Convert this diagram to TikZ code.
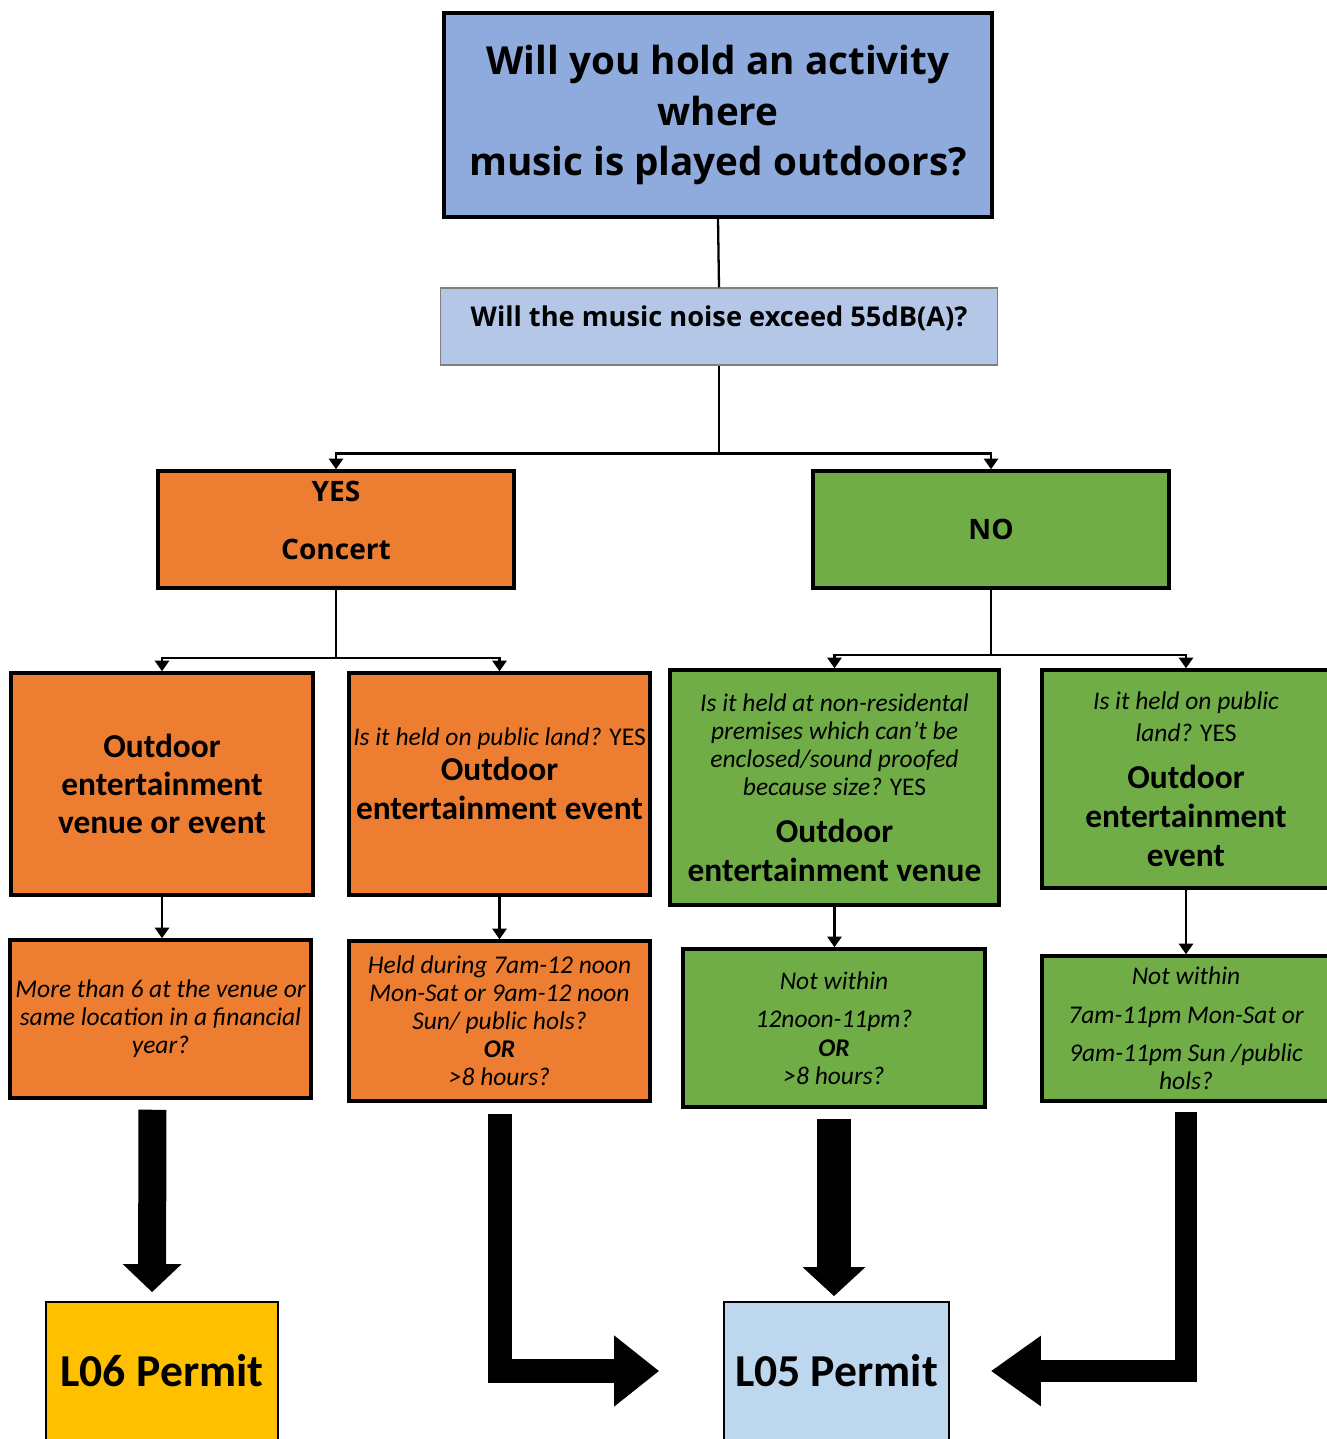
\documentclass[tikz,border=0pt]{standalone}
\usepackage{fontspec}
\setmainfont{Carlito}
\newfontfamily\headfont{Open Sans}
\usetikzlibrary{arrows.meta}
\definecolor{topblue}{HTML}{8FAADC}
\definecolor{paleblue}{HTML}{B4C7E7}
\definecolor{yesorange}{HTML}{ED7D31}
\definecolor{nogreen}{HTML}{70AD47}
\definecolor{lsixgold}{HTML}{FFC000}
\definecolor{lfiveblue}{HTML}{BDD7EE}
\newcommand{\heading}[1]{{\bfseries\upshape\fontsize{19}{21.6}\selectfont #1}}
\tikzset{
	box/.style={draw=black,line width=2pt,align=center,inner sep=2pt},
	link/.style={line width=1.3pt},
	tip/.style={-{Triangle[length=6pt,width=8pt]}},
	bigarrow/.style n args={3}{line width=#1,line join=miter,-{Triangle[length=#2,width=#3]}},
	small/.style={font=\itshape\fontsize{14.5}{16}\selectfont},
	big/.style={font=\bfseries\fontsize{19}{21.6}\selectfont}
}

\begin{document}
\begin{tikzpicture}[x=0.02cm,y=-0.02cm]
	\useasboundingbox (0,0) rectangle (1326,1439);
	\node[box,fill=topblue,line width=2.2pt,minimum width=10.96cm,minimum height=4.08cm,font=\headfont\bfseries\fontsize{22}{28.5}\selectfont] (activity) at (718,115) {Will you hold an activity\\ where\\ music is played outdoors?};
	\node[box,fill=paleblue,draw=gray,line width=0.6pt,minimum width=11.16cm,minimum height=1.54cm,text depth=0.42cm,font=\headfont\bfseries\fontsize{15.5}{18}\selectfont] (noise) at (719,326.5) {Will the music noise exceed 55dB(A)?};
	\node[box,fill=yesorange,minimum width=7.12cm,minimum height=2.34cm,text depth=0.36cm,font=\headfont\bfseries\fontsize{16}{19}\selectfont] (yes) at (336,529.5) {YES\\[14pt] Concert};
	\node[box,fill=nogreen,minimum width=7.12cm,minimum height=2.34cm,font=\headfont\bfseries\fontsize{16}{19}\selectfont] (no) at (991,529.5) {NO};

	\node[box,fill=yesorange,minimum width=6.04cm,minimum height=4.44cm,big] (venueevent) at (162,784) {Outdoor\\ entertainment\\ venue or event};
	\node[box,fill=yesorange,minimum width=6.02cm,minimum height=4.44cm,text depth=0.42cm,small] (publicland) at (499.5,784) {Is it held on public land? {\upshape YES}\\[4pt] \heading{Outdoor}\\[6pt] \heading{entertainment event}};
	\node[box,fill=nogreen,minimum width=6.58cm,minimum height=4.7cm,small] (nonres) at (834.5,787.5) {Is it held at non-residental\\ premises which can't be\\ enclosed/sound proofed\\ because size? {\upshape YES}\\[11pt] \heading{Outdoor}\\[6pt] \heading{entertainment venue}};
	\node[box,fill=nogreen,minimum width=5.76cm,minimum height=4.36cm,text depth=-0.34cm,small] (publicnd) at (1186,779) {Is it held on public\\[2pt] land? {\upshape YES}\\[11pt] \heading{Outdoor}\\[6pt] \heading{entertainment}\\[6pt] \heading{event}};

	\node[box,fill=yesorange,minimum width=6.02cm,minimum height=3.16cm,small] (morethansix) at (160.5,1019) {More than 6 at the venue or\\ same location in a financial\\ year?};
	\node[box,fill=yesorange,minimum width=6.02cm,minimum height=3.2cm,small] (noonhours) at (499.5,1021) {Held during 7am-12 noon\\ Mon-Sat or 9am-12 noon\\ Sun/ public hols?\\ {\bfseries OR}\\ >8 hours?};
	\node[box,fill=nogreen,minimum width=6.04cm,minimum height=3.16cm,small] (venuehours) at (834,1028) {Not within\\[6pt] 12noon-11pm?\\ {\bfseries OR}\\ >8 hours?};
	\node[box,fill=nogreen,minimum width=5.76cm,minimum height=2.9cm,small] (eventhours) at (1186,1028.5) {Not within\\[6pt] 7am-11pm Mon-Sat or\\[6pt] 9am-11pm Sun /public\\ hols?};

	\node[box,fill=lsixgold,line width=1pt,minimum width=4.64cm,minimum height=2.76cm,font=\bfseries\fontsize{26}{30}\selectfont] (lsix) at (162,1371) {L06 Permit};
	\node[box,fill=lfiveblue,line width=1pt,minimum width=4.5cm,minimum height=2.76cm,font=\bfseries\fontsize{26}{30}\selectfont] (lfive) at (836.5,1371) {L05 Permit};

	\draw[link] (activity.south) -- (noise.north);
	\draw[link] (noise.south) -- ++(0,88) coordinate (forkmain);
	\draw[link,tip] (forkmain) -| (yes.north);
	\draw[link,tip] (forkmain) -| (no.north);
	\draw[link] (yes.south) -- ++(0,68) coordinate (forkyes);
	\draw[link,tip] (forkyes) -| (venueevent.north);
	\draw[link,tip] (forkyes) -| (publicland.north);
	\draw[link] (no.south) -- ++(0,65) coordinate (forkno);
	\draw[link,tip] (forkno) -| (nonres.north);
	\draw[link,tip] (forkno) -| (publicnd.north);
	\draw[link,tip] (venueevent.south) -- (venueevent.south |- morethansix.north);
	\draw[link,tip] (publicland.south) -- (publicland.south |- noonhours.north);
	\draw[link,tip] (nonres.south) -- (nonres.south |- venuehours.north);
	\draw[link,tip] (publicnd.south) -- (publicnd.south |- eventhours.north);

	\draw[bigarrow={0.56cm}{0.56cm}{1.14cm},shorten <=0.2cm,shorten >=0.18cm] ([xshift=-0.16cm]morethansix.south) -- ([xshift=-0.2cm]lsix.north);
	\draw[bigarrow={0.48cm}{0.9cm}{1.36cm},shorten <=0.22cm,shorten >=1.28cm] (noonhours.south) |- (lfive.west);
	\draw[bigarrow={0.68cm}{0.58cm}{1.22cm},shorten <=0.2cm,shorten >=0.1cm] (venuehours.south) -- (venuehours.south |- lfive.north);
	\draw[bigarrow={0.44cm}{1cm}{1.34cm},shorten <=0.18cm,shorten >=0.82cm] (eventhours.south) |- (lfive.east);
\end{tikzpicture}
\end{document}
